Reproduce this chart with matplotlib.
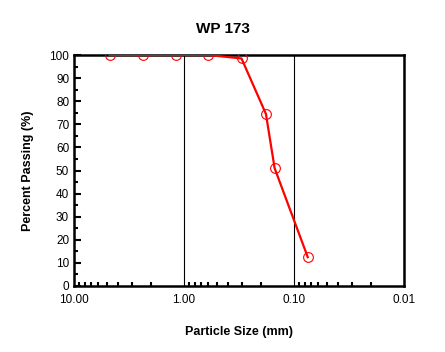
import matplotlib
matplotlib.use("Agg")
import matplotlib.pyplot as plt
from matplotlib.ticker import FixedLocator, LogLocator, MultipleLocator, NullFormatter

plt.rcParams['font.family'] = ['Liberation Sans', 'DejaVu Sans']

# sieve data
size_mm = [4.75, 2.36, 1.18, 0.6, 0.3, 0.18, 0.15, 0.075]
passing = [100, 100, 100, 100, 98.5, 74.5, 51, 12.5]
xticks = [10, 1, 0.1, 0.01]
xlabels = ['10.00', '1.00', '0.10', '0.01']

fig = plt.figure(figsize=(4.45, 3.52), dpi=100)
ax = fig.add_axes([74/445, 1-286/352, 330/445, 231/352])

ax.plot(size_mm, passing, color='red', lw=1.6, marker='o', ms=7,
        mfc='none', mec='red', mew=0.8, zorder=3)

ax.set_xscale('log')
ax.set_xlim(10, 0.01)
ax.set_ylim(0, 100)
ax.xaxis.set_major_locator(FixedLocator(xticks))
ax.set_xticklabels(xlabels)
ax.xaxis.set_minor_locator(LogLocator(base=10, subs=range(2, 10)))
ax.xaxis.set_minor_formatter(NullFormatter())
ax.yaxis.set_major_locator(MultipleLocator(10))
ax.yaxis.set_minor_locator(MultipleLocator(5))

ax.grid(True, axis='x', which='major', color='black', lw=0.8)
ax.tick_params(which='both', direction='in', labelsize=8.5, width=1.5)
ax.tick_params(which='major', length=5)
ax.tick_params(which='minor', length=3)
ax.tick_params(axis='x', which='major', length=0, pad=6)
for s in ax.spines.values():
    s.set_linewidth(1.8)

ax.set_xlabel('Particle Size (mm)', fontsize=9, fontweight='bold', labelpad=14)
ax.set_ylabel('Percent Passing (%)', fontsize=9, fontweight='bold', labelpad=11)
fig.text(0.5, 1-33/352, 'WP 173', fontsize=11, fontweight='bold',
         ha='center', va='baseline')

fig.savefig('out.png', dpi=100)
